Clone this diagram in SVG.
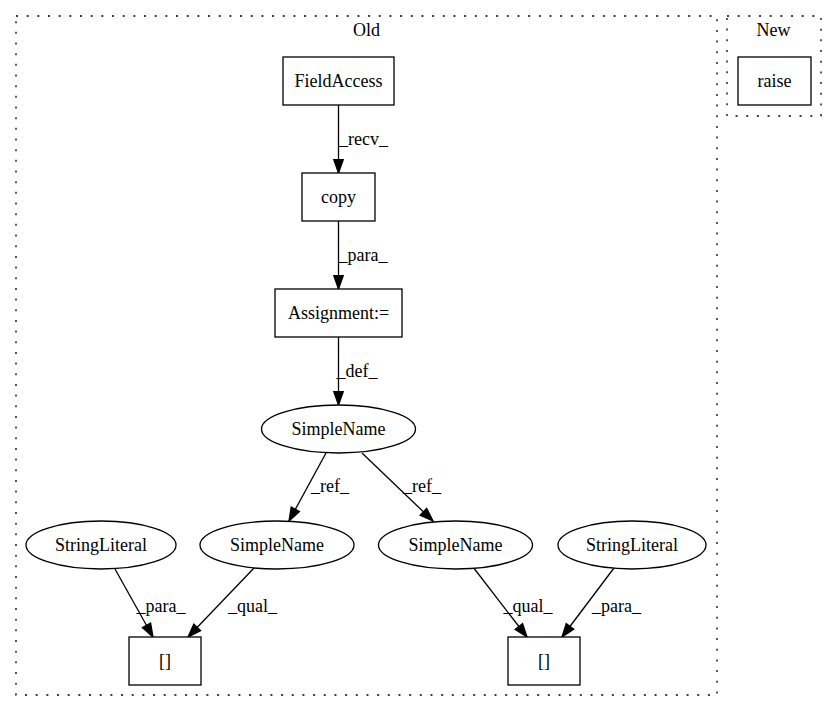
<svg xmlns="http://www.w3.org/2000/svg" width="837" height="712" viewBox="0 0 837 712">
<style>
.cluster{fill:none;stroke:#000;stroke-width:1.3;stroke-dasharray:2,8.67}
.node{fill:#fff;stroke:#000;stroke-width:1.3}
.edge{fill:none;stroke:#000;stroke-width:1.3;marker-end:url(#arrow)}
</style>
<defs>
<marker id="arrow" markerUnits="userSpaceOnUse" markerWidth="14" markerHeight="10" refX="13.3" refY="4.7" orient="auto" overflow="visible">
<path d="M0,0 L13.3,4.7 L0,9.4 z" fill="#000" stroke="#000" stroke-width="1.3"/>
</marker>
</defs>
<rect width="837" height="712" fill="#fff"/>
<g font-family="Liberation Serif, Times New Roman, serif" font-size="18" text-anchor="middle" fill="#000">
<g id="cluster_old">
<rect class="cluster" x="16" y="16" width="701" height="679"/>
<text x="366.5" y="36">Old</text>
</g>
<g id="cluster_new">
<rect class="cluster" x="727" y="16" width="94" height="100"/>
<text x="773.5" y="36">New</text>
</g>
<g id="edges">
<line class="edge" x1="338.5" y1="105" x2="338.5" y2="173"/>
<text x="363.5" y="145">_recv_</text>
<line class="edge" x1="338.5" y1="221" x2="338.5" y2="289"/>
<text x="363" y="261">_para_</text>
<line class="edge" x1="338.5" y1="337" x2="338.5" y2="405"/>
<text x="357" y="377">_def_</text>
<line class="edge" x1="326" y1="453" x2="289" y2="521"/>
<text x="330" y="492">_ref_</text>
<line class="edge" x1="362" y1="453" x2="433" y2="521"/>
<text x="422" y="492">_ref_</text>
<line class="edge" x1="115" y1="569" x2="153" y2="637"/>
<text x="161" y="612">_para_</text>
<line class="edge" x1="255" y1="567" x2="188" y2="637"/>
<text x="252.5" y="612">_qual_</text>
<line class="edge" x1="473" y1="567" x2="527" y2="637"/>
<text x="528" y="612">_qual_</text>
<line class="edge" x1="614" y1="568" x2="562" y2="637"/>
<text x="616.5" y="612">_para_</text>
</g>
<g id="n_fieldaccess">
<rect class="node" x="283" y="57" width="111" height="48"/>
<text x="338.5" y="87">FieldAccess</text>
</g>
<g id="n_copy">
<rect class="node" x="302" y="173" width="73" height="48"/>
<text x="338.5" y="203">copy</text>
</g>
<g id="n_assignment">
<rect class="node" x="275" y="289" width="127" height="48"/>
<text x="338.5" y="319">Assignment:=</text>
</g>
<g id="n_simplename_top">
<ellipse class="node" cx="338.5" cy="429" rx="77" ry="24"/>
<text x="338.5" y="435">SimpleName</text>
</g>
<g id="n_stringliteral_left">
<ellipse class="node" cx="101" cy="545" rx="75" ry="24"/>
<text x="101" y="551">StringLiteral</text>
</g>
<g id="n_simplename_left">
<ellipse class="node" cx="277" cy="545" rx="77" ry="24"/>
<text x="277" y="551">SimpleName</text>
</g>
<g id="n_simplename_right">
<ellipse class="node" cx="455.5" cy="545" rx="77" ry="24"/>
<text x="455.5" y="551">SimpleName</text>
</g>
<g id="n_stringliteral_right">
<ellipse class="node" cx="632" cy="545" rx="74" ry="24"/>
<text x="632" y="551">StringLiteral</text>
</g>
<g id="n_index_left">
<rect class="node" x="129" y="637" width="72" height="48"/>
<text x="165" y="667">[]</text>
</g>
<g id="n_index_right">
<rect class="node" x="508" y="637" width="72" height="48"/>
<text x="544" y="667">[]</text>
</g>
<g id="n_raise">
<rect class="node" x="738" y="57" width="73" height="48"/>
<text x="774.5" y="87">raise</text>
</g>
</g>
</svg>
